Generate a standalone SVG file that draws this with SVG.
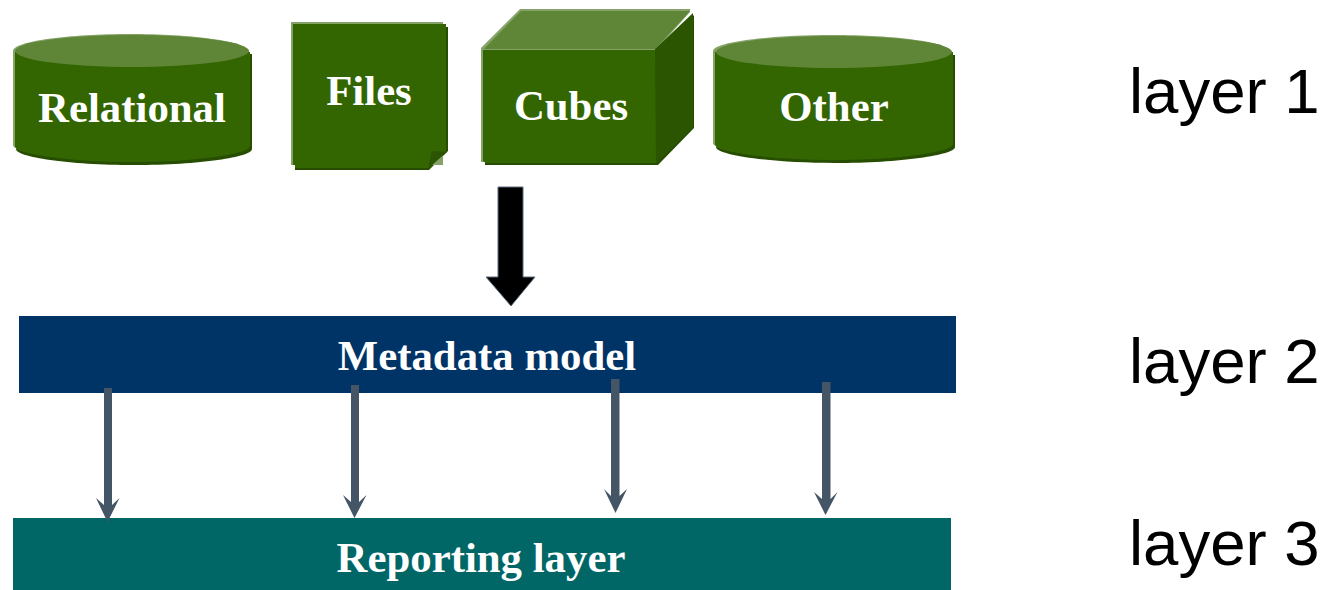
<svg xmlns="http://www.w3.org/2000/svg" width="1325" height="590" viewBox="0 0 1325 590">
<defs>
<style>
.body{fill:#336600}.top{fill:#5f8536}.hi{fill:#85a368}.dark{fill:#264d00}.side{fill:#2b5500}
.t{font-family:"Liberation Serif","Times New Roman",serif;font-weight:bold;font-size:42.8px;fill:#fff;text-anchor:middle}
.l{font-family:"Liberation Sans",Arial,sans-serif;font-size:63.5px;fill:#000}
.c{fill:#445566}
</style>
</defs>
<rect width="1325" height="590" fill="#fff"/>
<g id="relational">
<path class="dark" d="M16 54H252V149C252 157 200 165 134 165C68 165 16 157 16 149Z"/>
<path class="hi" d="M13 51C13 41 70 34 130 34C190 34 249 41 249 52V145C249 153 195 161 131 161C67 161 13 153 13 145Z"/>
<path class="body" d="M15 52H250V146C250 154 196 162 132 162C68 162 15 154 15 146Z"/>
<ellipse class="top" cx="132" cy="51" rx="117" ry="16"/>
<text class="t" x="132" y="122">Relational</text>
</g>
<g id="files">
<path class="dark" d="M295 27H448V151L429 170H295Z"/>
<path class="hi" d="M291 22H443V165H291Z"/>
<path class="body" d="M293 24H446V152L429 168H295V165H293Z"/>
<path class="side" d="M428 168L432 151L447 152Z"/>
<text class="t" x="369" y="105">Files</text>
</g>
<g id="cubes">
<path class="dark" d="M485 54H660L694 15V128L658 165H485Z"/>
<path class="hi" d="M481 48L520 9H690V12L656 50V162H481Z"/>
<path class="body" d="M483 50H656V163H486L483 161Z"/>
<path class="top" d="M484 49L521 11H690L655 49Z"/>
<path class="side" d="M655 49L693 13V128L656 163Z"/>
<text class="t" x="571" y="120">Cubes</text>
</g>
<g id="other">
<path class="dark" d="M716 55H955V147C955 155 900 163 835 163C770 163 716 155 716 147Z"/>
<path class="hi" d="M713 51C713 42 770 35 832 35C895 35 952 42 952 53V143C952 151 897 159 832 159C767 159 713 151 713 143Z"/>
<path class="body" d="M715 52H953V144C953 152 898 160 834 160C770 160 715 152 715 144Z"/>
<ellipse class="top" cx="834" cy="52" rx="118" ry="16"/>
<text class="t" x="834" y="121">Other</text>
</g>
<g id="metadata">
<rect x="19" y="316" width="937" height="77" fill="#003366"/>
<text class="t" x="487" y="370">Metadata model</text>
</g>
<g id="reporting">
<rect x="13" y="518" width="938" height="72" fill="#006666"/>
<text class="t" x="481" y="572">Reporting layer</text>
</g>
<g id="connectors">
<path d="M498 187H523V277H535L511 306L486 277H498Z" fill="#000" stroke="#5a6b7c" stroke-width="1"/>
<path class="c" d="M104 388H112V505L119.500 498L107.500 522L96 498L104 505Z"/>
<path class="c" d="M351 385H359V502L366.500 495L354.500 518L343 495L351 502Z"/>
<path class="c" d="M611 379H619.500V496L627 489L615.500 513L604 489L611 496Z"/>
<path class="c" d="M822 382H830.500V499L837.500 492L825.500 515L814 492L822 499Z"/>
</g>
<g id="layer-labels">
<text class="l" x="1129" y="113">layer 1</text>
<text class="l" x="1129" y="383">layer 2</text>
<text class="l" x="1129" y="565">layer 3</text>
</g>
</svg>
